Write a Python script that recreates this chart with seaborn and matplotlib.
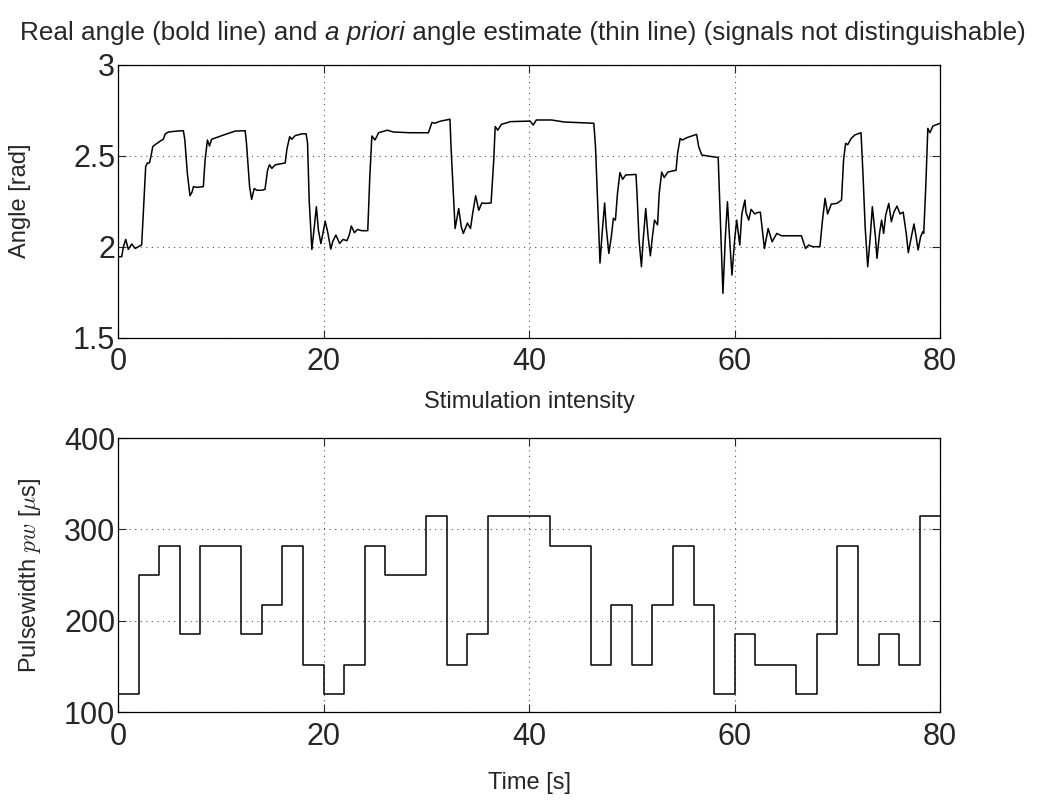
import numpy as np
import seaborn as sns
import matplotlib.pyplot as plt

# angle trace
t_angle = [0, 0.36, 0.52, 0.75, 1.0, 1.33, 1.66, 1.98, 2.3, 2.47, 2.69, 2.86, 3.05, 3.18, 3.38, 3.6,
           4.1, 4.4, 4.6, 4.9, 5.7, 6.36, 6.5, 6.75, 7.0, 7.2, 7.34, 7.66, 8.3, 8.47, 8.7, 8.9, 9.1,
           9.6, 10.6, 11.4, 12.37, 12.5, 12.8, 13.0, 13.25, 13.5, 14.0, 14.3, 14.55, 14.74, 14.97,
           15.3, 16.27, 16.43, 16.7, 16.9, 17.24, 17.9, 18.3, 18.44, 18.6, 18.86, 19.1, 19.3, 19.5,
           19.74, 20.16, 20.4, 20.7, 20.9, 21.2, 21.56, 21.9, 22.27, 22.5, 22.7, 23.0, 23.3, 23.7,
           24.3, 24.5, 24.7, 25.0, 25.36, 26.2, 26.8, 28.4, 30.2, 30.55, 30.8, 31.4, 32.3, 32.4,
           32.66, 32.8, 33.15, 33.4, 33.6, 34.0, 34.3, 34.5, 34.8, 35.1, 35.4, 35.75, 36.3, 36.56,
           36.7, 36.95, 37.3, 38.2, 40.1, 40.4, 40.7, 42.2, 43.4, 45.6, 46.3, 46.46, 46.7, 46.9,
           47.1, 47.35, 47.5, 47.76, 48.0, 48.2, 48.4, 48.6, 48.84, 49.1, 49.4, 50.4, 50.5, 50.7,
           50.93, 51.1, 51.35, 51.58, 51.8, 52.0, 52.2, 52.5, 52.66, 52.9, 53.15, 53.5, 54.3, 54.45,
           54.7, 54.9, 55.4, 56.3, 56.5, 56.8, 57.4, 58.4, 58.5, 58.7, 58.86, 59.1, 59.3, 59.5,
           59.74, 60.0, 60.2, 60.5, 60.7, 61.0, 61.1, 61.37, 61.6, 61.96, 62.2, 62.5, 62.9, 63.26,
           63.65, 64.1, 64.57, 66.5, 66.9, 67.2, 67.6, 68.3, 68.55, 68.8, 69.05, 69.4, 69.95, 70.4,
           70.6, 70.8, 71.0, 71.35, 71.7, 72.3, 72.5, 72.7, 72.95, 73.2, 73.4, 73.7, 73.85, 74.1,
           74.3, 74.5, 74.7, 75.0, 75.25, 75.5, 75.8, 76.1, 76.4, 76.7, 76.9, 77.2, 77.45, 77.66,
           77.85, 78.1, 78.3, 78.4, 78.6, 78.8, 79.0, 79.3, 80.0]
angle = [1.945, 1.945, 2.0, 2.04, 1.985, 2.015, 1.99, 2.0, 2.01, 2.2, 2.44, 2.46, 2.46, 2.49, 2.55, 2.56,
         2.58, 2.59, 2.62, 2.63, 2.635, 2.637, 2.586, 2.40, 2.28, 2.30, 2.33, 2.326, 2.33, 2.476, 2.586, 2.553, 2.59,
         2.60, 2.62, 2.635, 2.637, 2.568, 2.33, 2.26, 2.32, 2.31, 2.31, 2.315, 2.42, 2.45, 2.43,
         2.45, 2.46, 2.535, 2.604, 2.59, 2.61, 2.62, 2.62, 2.57, 2.256, 1.985, 2.11, 2.22, 2.09,
         2.017, 2.14, 2.08, 1.987, 2.03, 2.064, 2.018, 2.04, 2.033, 2.064, 2.114, 2.077, 2.095, 2.088,
         2.088, 2.385, 2.608, 2.586, 2.626, 2.64, 2.63, 2.626, 2.626, 2.683, 2.678, 2.69, 2.70, 2.55,
         2.256, 2.10, 2.21, 2.11, 2.073, 2.13, 2.10, 2.18, 2.28, 2.20, 2.24, 2.238, 2.24, 2.476,
         2.66, 2.64, 2.672, 2.687, 2.69, 2.668, 2.696, 2.696, 2.685, 2.68, 2.678, 2.55, 2.20, 1.91,
         2.07, 2.24, 2.11, 1.963, 2.055, 2.156, 2.146, 2.293, 2.407, 2.37, 2.394, 2.397, 2.293, 2.037,
         1.89, 2.037, 2.21, 2.055, 1.95, 2.055, 2.146, 2.12, 2.293, 2.41, 2.38, 2.41, 2.42, 2.513,
         2.595, 2.586, 2.60, 2.617, 2.55, 2.504, 2.498, 2.49, 2.33, 2.0, 1.744, 2.055, 2.247, 2.055,
         1.844, 2.037, 2.146, 2.009, 2.18, 2.256, 2.19, 2.146, 2.205, 2.18, 2.187, 2.19, 1.99, 2.10,
         2.027, 2.073, 2.06, 2.06, 1.99, 2.009, 2.0, 2.0, 2.146, 2.266, 2.18, 2.234, 2.238, 2.256,
         2.476, 2.568, 2.56, 2.595, 2.614, 2.626, 2.385, 2.11, 1.89, 2.055, 2.22, 2.055, 1.936, 2.073,
         2.146, 2.073, 2.174, 2.238, 2.137, 2.19, 2.223, 2.18, 2.19, 2.073, 1.967, 2.055, 2.125, 2.055,
         1.982, 2.055, 2.082, 2.073, 2.33, 2.65, 2.626, 2.663, 2.678]

# pulsewidth, one value per 2 s interval
t_pw = list(range(0, 80, 2))
pw = [120, 250, 282, 185, 282, 282, 185, 217, 282, 152,
      120, 152, 282, 250, 250, 315, 152, 185, 315, 315,
      315, 282, 282, 152, 217, 152, 217, 282, 217, 120,
      185, 152, 152, 120, 185, 282, 152, 185, 152, 315]

sns.set_style('ticks')
plt.rcParams['font.family'] = ['Liberation Sans', 'DejaVu Sans']
plt.rcParams['mathtext.fontset'] = 'cm'
plt.rcParams['xtick.direction'] = 'in'
plt.rcParams['ytick.direction'] = 'in'
plt.rcParams['xtick.top'] = True
plt.rcParams['ytick.right'] = True

fig = plt.figure(figsize=(10.4, 8.08), dpi=100)
ax1 = fig.add_axes([0.1135, 0.582, 0.7905, 0.338])
ax2 = fig.add_axes([0.1135, 0.1188, 0.7905, 0.339])

sns.lineplot(x=t_angle, y=angle, ax=ax1, color='black', lw=1.1, sort=False)
sns.lineplot(x=t_pw + [80], y=pw + [pw[-1]], ax=ax2, color='black', lw=1.1,
             drawstyle='steps-post', sort=False)

for ax in (ax1, ax2):
    ax.set_xlim(0, 80)
    ax.set_xticks([0, 20, 40, 60, 80])
    ax.grid(True, ls=(0, (1, 4)), color='#555555', lw=0.8)
    ax.tick_params(labelsize=22, length=6, width=0.8, pad=2)
    ax.tick_params(axis='x', pad=7)
    for s in ax.spines.values():
        s.set_linewidth(0.9)
        s.set_color('black')

ax1.set_ylim(1.5, 3)
ax1.set_yticks([1.5, 2, 2.5, 3])
ax1.set_yticklabels(['1.5', '2', '2.5', '3'])
ax1.set_ylabel('Angle [rad]', fontsize=17, va='center')
ax1.yaxis.set_label_coords(-0.119, 0.5)
ax1.set_xlabel('Stimulation intensity', fontsize=17, va='center')
ax1.xaxis.set_label_coords(0.5, -0.235)

ax2.set_ylim(100, 400)
ax2.set_yticks([100, 200, 300, 400])
ax2.set_ylabel(r'Pulsewidth $pw$ [$\mu$s]', fontsize=17, va='center')
ax2.yaxis.set_label_coords(-0.107, 0.5)
ax2.set_xlabel('Time [s]', fontsize=17, va='center')
ax2.xaxis.set_label_coords(0.5, -0.259)

# title with italic part
pieces = [('Real angle (bold line) and ', 'normal'), ('a priori', 'italic'),
          (' angle estimate (thin line) (signals not distinguishable)', 'normal')]
fig.canvas.draw()
r = fig.canvas.get_renderer()
texts = []
for s, st in pieces:
    texts.append(fig.text(0, 0.959, s, fontsize=18.8, style=st, va='center'))
widths = [tx.get_window_extent(r).width for tx in texts]
x0 = 523 - sum(widths) / 2
for tx, w in zip(texts, widths):
    tx.set_x(x0 / 1040)
    x0 += w

fig.savefig('out.png', dpi=100)
